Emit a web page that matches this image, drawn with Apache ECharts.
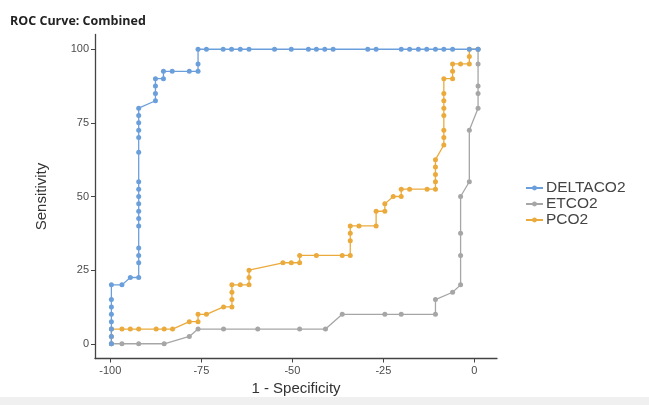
<!DOCTYPE html>
<html>
<head>
<meta charset="utf-8">
<title>ROC Curve: Combined</title>
<script src="https://cdn.jsdelivr.net/npm/echarts@6/dist/echarts.min.js"></script>
<style>
  html, body { margin: 0; padding: 0; background: #fff; }
  #chart { width: 649px; height: 405px; }
</style>
</head>
<body>
<div id="chart"></div>
<script>
// values (x = 1 - specificity, y = sensitivity)
const deltaX = [-99.7, -99.7, -99.7, -99.7, -99.7, -99.7, -99.7, -99.7, -96.8, -94.5, -92.2,
  -92.2, -92.2, -92.2, -92.2, -92.2, -92.2, -92.2, -92.2, -92.2, -92.2, -92.2, -92.2, -92.2, -92.2, -92.2, -92.2,
  -87.6, -87.6, -87.6, -87.6, -85.4, -85.4, -83.0, -78.3, -75.9, -75.9, -75.9,
  -73.6, -69.0, -66.7, -64.3, -61.9, -54.9, -50.3, -45.6, -43.4, -41.1, -38.8, -29.3, -27.0,
  -20.1, -17.8, -15.4, -13.1, -10.7, -8.4, -6.0, -1.4, 1.0];
const deltaY = [0, 2.5, 5, 7.5, 10, 12.5, 15, 20, 20, 22.5, 22.5,
  27.5, 30, 32.5, 40, 42.5, 45, 47.5, 50, 52.5, 55, 65, 70, 72.5, 75, 77.5, 80,
  82.5, 85, 87.5, 90, 90, 92.5, 92.5, 92.5, 92.5, 95, 100,
  100, 100, 100, 100, 100, 100, 100, 100, 100, 100, 100, 100, 100,
  100, 100, 100, 100, 100, 100, 100, 100, 100];

const etcoX = [-99.7, -96.8, -92.2, -85.2, -78.3, -75.9, -68.9, -59.5, -48.0, -40.9, -36.3, -24.6, -20.1,
  -10.7, -10.7, -6.0, -3.8, -3.8, -3.8, -3.8, -1.4, -1.4, 1.0, 1.0, 1.0, 1.0, 1.0];
const etcoY = [0, 0, 0, 0, 2.5, 5, 5, 5, 5, 5, 10, 10, 10,
  10, 15, 17.5, 20, 30, 37.5, 50, 55, 72.5, 80, 85, 87.5, 95, 100];

const pcoX = [-99.7, -99.7, -99.7, -96.8, -94.5, -92.2, -87.4, -85.2, -82.9, -78.3, -75.9, -75.9, -73.6,
  -68.9, -66.6, -66.6, -66.6, -66.6, -64.3, -61.9, -61.9, -61.9, -52.6, -50.3, -48.0, -48.0, -43.4,
  -36.3, -34.1, -34.1, -34.1, -34.1, -31.7, -27.0, -27.0, -24.6, -24.6, -22.3, -20.1, -20.1, -17.8,
  -13.0, -10.7, -10.7, -10.7, -10.7, -10.7, -8.4, -8.4, -8.4, -8.4, -8.4, -8.4, -8.4, -8.4,
  -6.0, -6.0, -6.0, -3.8, -1.4, -1.4, -1.4, 1.0];
const pcoY = [0, 2.5, 5, 5, 5, 5, 5, 5, 5, 7.5, 7.5, 10, 10,
  12.5, 12.5, 15, 17.5, 20, 20, 20, 22.5, 25, 27.5, 27.5, 27.5, 30, 30,
  30, 30, 35, 37.5, 40, 40, 40, 45, 45, 47.5, 50, 50, 52.5, 52.5,
  52.5, 52.5, 55, 57.5, 60, 62.5, 67.5, 70, 72.5, 77.5, 80, 82.5, 85, 90,
  90, 92.5, 95, 95, 95, 97.5, 100, 100];

const xTicks = [-100, -75, -50, -25, 0];
const yTicks = [0, 25, 50, 75, 100];

const seriesNames = ['DELTACO2', 'ETCO2', 'PCO2'];
const seriesColors = ['#6b9fdb', '#a6a6a6', '#ebaa3c'];

const pairs = (xs, ys) => xs.map((x, i) => [x, ys[i]]);

const chart = echarts.init(document.getElementById('chart'));

const axisText = { color: '#4d4d4d', fontSize: 11, fontFamily: 'Liberation Sans' };

const option = {
  animation: false,
  title: {
    text: 'ROC Curve: Combined',
    left: 10,
    top: 15,
    padding: 0,
    textStyle: { fontSize: 12.5, fontWeight: 'bold', color: '#222', fontFamily: 'Open Sans' }
  },
  legend: {
    orient: 'vertical',
    left: 525,
    top: 180,
    padding: 0,
    itemGap: 0,
    itemWidth: 17,
    itemHeight: 6,
    data: seriesNames,
    textStyle: { fontSize: 15.5, lineHeight: 16, color: '#444', fontFamily: 'Liberation Sans', padding: [0, 0, 0, -2] }
  },
  grid: { left: 95, right: 152, top: 34.5, bottom: 46.5, containLabel: false },
  xAxis: {
    type: 'value',
    min: -104.2,
    max: 6.2,
    name: '1 - Specificity',
    nameLocation: 'middle',
    nameGap: 22,
    nameTextStyle: { fontSize: 15, color: '#333', fontFamily: 'Liberation Sans' },
    splitLine: { show: false },
    axisLine: { show: true, onZero: false, lineStyle: { color: '#444', width: 1.3 } },
    axisTick: { show: true, length: 4, customValues: xTicks, lineStyle: { color: '#444' } },
    axisLabel: Object.assign({ customValues: xTicks, margin: 7 }, axisText)
  },
  yAxis: {
    type: 'value',
    min: -5,
    max: 105,
    name: 'Sensitivity',
    nameLocation: 'middle',
    nameGap: 46,
    nameTextStyle: { fontSize: 15, color: '#333', fontFamily: 'Liberation Sans Narrow, Liberation Sans' },
    splitLine: { show: false },
    axisLine: { show: true, onZero: false, lineStyle: { color: '#444', width: 1.3 } },
    axisTick: { show: true, length: 4, customValues: yTicks, lineStyle: { color: '#444' } },
    axisLabel: Object.assign({ customValues: yTicks, margin: 6 }, axisText)
  },
  graphic: [{
    type: 'rect',
    shape: { x: 0, y: 397, width: 649, height: 8 },
    style: { fill: '#f0f0f0' },
    silent: true
  }],
  series: [
    [deltaX, deltaY],
    [etcoX, etcoY],
    [pcoX, pcoY]
  ].map(([xs, ys], i) => ({
    name: seriesNames[i],
    type: 'line',
    data: pairs(xs, ys),
    symbol: 'circle',
    symbolSize: 5,
    color: seriesColors[i],
    lineStyle: { width: 1.3 },
    z: 3 - i
  }))
};

chart.setOption(option);
</script>
</body>
</html>
